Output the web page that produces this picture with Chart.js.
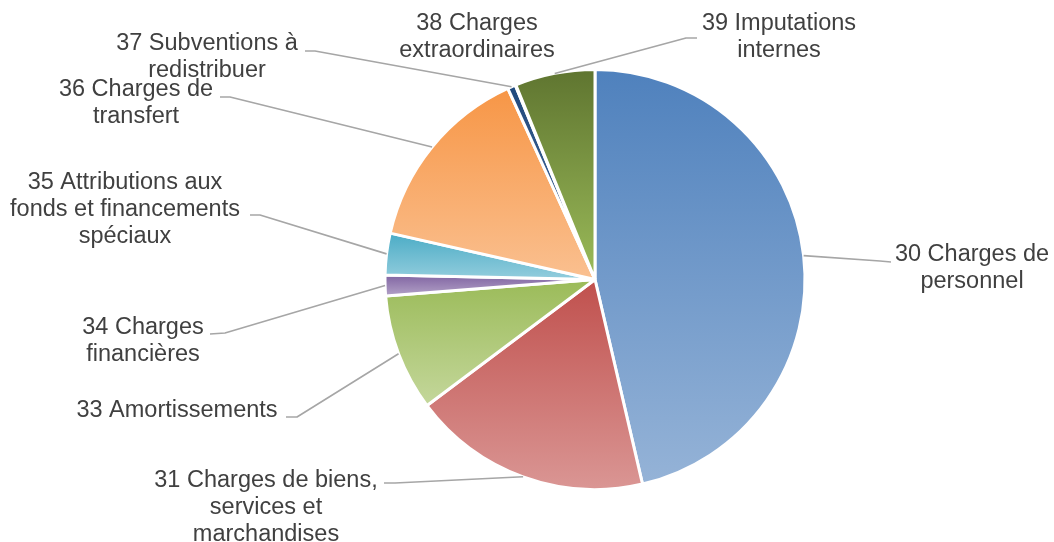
<!DOCTYPE html>
<html><head><meta charset="utf-8">
<script src="https://cdn.jsdelivr.net/npm/chart.js@4.4.1/dist/chart.umd.min.js"></script>
<style>html,body{margin:0;padding:0;background:#fff}#wrap{width:1054px;height:542px;position:relative}</style>
</head><body><div id="wrap"><canvas id="c" width="1054" height="542"></canvas></div>
<script>
// ---- data ----
const categories = ["30 Charges de personnel","31 Charges de biens, services et marchandises","33 Amortissements","34 Charges financières","35 Attributions aux fonds et financements spéciaux","36 Charges de transfert","37 Subventions à redistribuer","38 Charges extraordinaires","39 Imputations internes"];
const labelLines = [["30 Charges de","personnel"],["31 Charges de biens,","services et","marchandises"],["33 Amortissements"],["34 Charges","financières"],["35 Attributions aux","fonds et financements","spéciaux"],["36 Charges de","transfert"],["37 Subventions à","redistribuer"],["38 Charges","extraordinaires"],["39 Imputations","internes"]];
const values = [46.4, 18.4, 9.0, 1.6, 3.2, 14.65, 0.62, 0.05, 6.15];
const baseColors  = ["#4F81BD","#C0504D","#9BBB59","#8064A2","#4BACC6","#F79646","#1F497D","#772C2A","#5F7530"];
const lightColors = ["#95B3D7","#DA9694","#C4D79B","#B3A2C7","#93CDDD","#FAC090","#4F6F9F","#A05050","#9BBB59"];

// ---- label layout (text centre, first line y, leader line label-side end & elbow) ----
const labelLayout = [
  {x:972, y:255, end:[891,262], elbow:[880,261]},
  {x:266, y:481, end:[384,483], elbow:[395,483]},
  {x:177, y:411, end:[286,417], elbow:[297,417]},
  {x:143, y:328, end:[210,334], elbow:[225,333]},
  {x:125, y:183, end:[250,215], elbow:[260,215]},
  {x:136, y:90,  end:[220,97],  elbow:[230,97]},
  {x:207, y:44,  end:[305,51],  elbow:[315,51]},
  {x:477, y:24,  end:null,      elbow:null},
  {x:779, y:24,  end:[697,38],  elbow:[686,38]}
];
const LINE_H = 27;

const gradientPlugin = {
  id:'grad',
  beforeDatasetsDraw(chart){
    const meta = chart.getDatasetMeta(0);
    const ctx = chart.ctx;
    meta.data.forEach((arc,i)=>{
      const {x,y,startAngle,endAngle,outerRadius} = arc;
      const ys=[y, y+outerRadius*Math.sin(startAngle), y+outerRadius*Math.sin(endAngle)];
      [-Math.PI/2, Math.PI/2, 3*Math.PI/2].forEach(a=>{ if(a>=startAngle && a<=endAngle) ys.push(y+outerRadius*Math.sin(a)); });
      const top=Math.min(...ys), bot=Math.max(...ys);
      const g=ctx.createLinearGradient(0,top,0,bot+0.01);
      g.addColorStop(0, baseColors[i]); g.addColorStop(1, lightColors[i]);
      arc.options.backgroundColor=g;
    });
  }
};

const labelPlugin = {
  id:'outlabels',
  afterDatasetsDraw(chart){
    const meta = chart.getDatasetMeta(0);
    const ctx = chart.ctx;
    ctx.save();
    meta.data.forEach((arc,i)=>{
      const L = labelLayout[i];
      const {x,y,startAngle,endAngle,outerRadius} = arc;
      const mid=(startAngle+endAngle)/2;
      const px = x + outerRadius*Math.cos(mid), py = y + outerRadius*Math.sin(mid);
      if (L.end){
        ctx.beginPath();
        ctx.strokeStyle='#A6A6A6'; ctx.lineWidth=1.6; ctx.lineJoin='round';
        ctx.moveTo(px,py); ctx.lineTo(L.elbow[0],L.elbow[1]); ctx.lineTo(L.end[0],L.end[1]);
        ctx.stroke();
      }
      ctx.fillStyle='#404040';
      ctx.font='23.5px "Liberation Sans", Arial, sans-serif';
      ctx.textAlign='center'; ctx.textBaseline='middle';
      labelLines[i].forEach((t,k)=>ctx.fillText(t, L.x, L.y + k*LINE_H));
    });
    ctx.restore();
  }
};

new Chart(document.getElementById('c'), {
  type:'pie',
  data:{ labels:categories, datasets:[{ data:values, backgroundColor:baseColors, borderColor:'#FFFFFF', borderWidth:3 }]},
  options:{
    responsive:false, animation:false, events:[],
    radius:210,
    layout:{padding:{left:136,top:17,right:0,bottom:0}},
    plugins:{legend:{display:false}, tooltip:{enabled:false}}
  },
  plugins:[gradientPlugin,labelPlugin]
});
</script></body></html>
